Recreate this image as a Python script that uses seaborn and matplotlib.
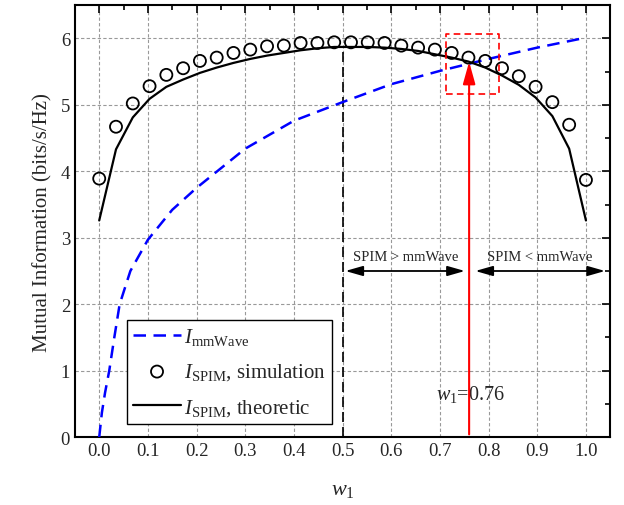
import seaborn as sns
import matplotlib.pyplot as plt
import pandas as pd
import numpy as np

# donnees
w_sim = [i / 29 for i in range(30)]
I_sim = [3.89, 4.67, 5.02, 5.28, 5.45, 5.55, 5.66, 5.71, 5.78, 5.83,
         5.88, 5.89, 5.93, 5.93, 5.94, 5.94, 5.94, 5.93, 5.89, 5.86,
         5.83, 5.78, 5.71, 5.66, 5.55, 5.43, 5.27, 5.04, 4.70, 3.87]
I_theo = [3.26, 4.33, 4.81, 5.09, 5.27, 5.38, 5.48, 5.56, 5.63, 5.69,
          5.74, 5.78, 5.82, 5.85, 5.87, 5.87, 5.87, 5.86, 5.84, 5.81,
          5.76, 5.71, 5.65, 5.56, 5.44, 5.30, 5.11, 4.83, 4.34, 3.26]
w_mm = [0.0, 0.0055, 0.012, 0.0206, 0.031, 0.042, 0.064, 0.1, 0.15, 0.2,
        0.3, 0.4, 0.5, 0.6, 0.7, 0.8, 0.9, 1.0]
I_mm = [0.0, 0.37, 0.67, 1.0, 1.5, 2.0, 2.5, 2.97, 3.42, 3.75,
        4.34, 4.76, 5.04, 5.31, 5.51, 5.69, 5.86, 6.01]
w_cross = 0.76
I_cross = 5.66

df_sim = pd.DataFrame({'w': w_sim, 'sim': I_sim, 'theo': I_theo})
df_mm = pd.DataFrame({'w': w_mm, 'I': I_mm})

sns.set_theme(style='white')
plt.rcParams['font.family'] = ['Liberation Serif', 'DejaVu Serif']
plt.rcParams['mathtext.fontset'] = 'custom'
plt.rcParams['mathtext.rm'] = 'Liberation Serif'
plt.rcParams['mathtext.it'] = 'Liberation Serif:italic'

fig, ax = plt.subplots(figsize=(6.24, 5.06), dpi=100)
fig.subplots_adjust(left=0.120, right=0.978, top=0.988, bottom=0.134)

ax.grid(True, which='major', color='#999999', linestyle=(0, (3, 2)), linewidth=0.8)
ax.set_axisbelow(True)

sns.lineplot(data=df_mm, x='w', y='I', ax=ax, color='blue', lw=1.8,
             linestyle=(0, (5, 3)), label=r'$I_{\mathrm{mmWave}}$', zorder=3)
sns.scatterplot(data=df_sim, x='w', y='sim', ax=ax, marker='o', s=75,
                facecolor='none', edgecolor='black', linewidth=1.3,
                label=r'$I_{\mathrm{SPIM}}$, simulation', zorder=4)
sns.lineplot(data=df_sim, x='w', y='theo', ax=ax, color='black', lw=1.6,
             label=r'$I_{\mathrm{SPIM}}$, theoretic', zorder=3)

# ligne verticale w1 = 0.5
ax.plot([0.5, 0.5], [0, 5.88], color='black', lw=1.2, linestyle=(0, (6, 3)), zorder=2)

# fleche rouge w1 = 0.76
ax.annotate('', xy=(w_cross, I_cross + 0.03), xytext=(w_cross, 0),
            arrowprops=dict(arrowstyle='-|>,head_length=0.9,head_width=0.25',
                            color='red', lw=1.5, mutation_scale=15), zorder=5)
ax.plot([0.712, 0.822, 0.822, 0.712, 0.712], [5.16, 5.16, 6.06, 6.06, 5.16],
        color='red', lw=1.2, linestyle=(0, (4, 2.5)), zorder=5)

# fleches doubles
ax.annotate('', xy=(0.5, 2.5), xytext=(w_cross - 0.003, 2.5),
            arrowprops=dict(arrowstyle='<|-|>,head_length=0.7,head_width=0.2',
                            color='black', lw=1.3, mutation_scale=15))
ax.annotate('', xy=(w_cross + 0.007, 2.5), xytext=(1.045, 2.5),
            arrowprops=dict(arrowstyle='<|-|>,head_length=0.7,head_width=0.2',
                            color='black', lw=1.3, mutation_scale=15))
ax.text(0.63, 2.62, 'SPIM > mmWave', ha='center', va='bottom', fontsize=10.5)
ax.text(0.905, 2.62, 'SPIM < mmWave', ha='center', va='bottom', fontsize=10.5)
ax.text(w_cross + 0.002, 0.65, r'$w_1$=0.76', ha='center', va='center', fontsize=14.5)

ax.set_xlim(-0.05, 1.05)
ax.set_ylim(0, 6.5)
ax.set_xticks(np.arange(0, 1.01, 0.1))
ax.set_xticks(np.arange(-0.05, 1.06, 0.05), minor=True)
ax.set_yticks(range(0, 7))
ax.set_yticks(np.arange(0, 6.6, 0.5), minor=True)
ax.set_xticklabels([f'{v:.1f}' for v in np.arange(0, 1.01, 0.1)])
ax.tick_params(which='both', direction='in', top=True, right=True,
               labelsize=13.5, color='black', width=1.2)
ax.tick_params(which='major', length=6)
ax.tick_params(which='minor', length=3.5)
for sp in ax.spines.values():
    sp.set_color('black')
    sp.set_linewidth(1.5)

ax.set_xlabel(r'$w_1$', fontsize=16, labelpad=15)
ax.set_ylabel('Mutual Information (bits/s/Hz)', fontsize=15, labelpad=6)

leg = ax.legend(loc='lower left', bbox_to_anchor=(0.097, 0.03), fontsize=15,
                frameon=True, fancybox=False, edgecolor='black', framealpha=1,
                borderpad=0.3, handlelength=2.3, handletextpad=0.15,
                labelspacing=0.7, borderaxespad=0)
leg.get_frame().set_linewidth(1.0)

plt.savefig('out.png', dpi=100)
